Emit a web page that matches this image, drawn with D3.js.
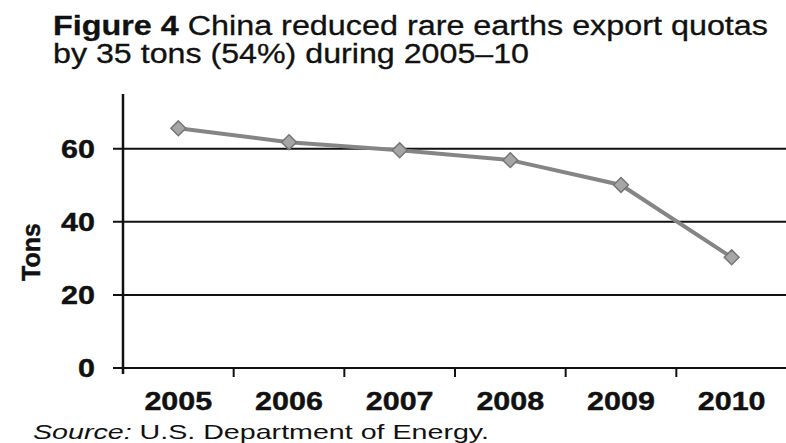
<!DOCTYPE html>
<html>
<head>
<meta charset="utf-8">
<script src="https://cdn.jsdelivr.net/npm/d3@7"></script>
<style>
  html, body { margin: 0; padding: 0; background: #fff; }
  svg { display: block; font-family: "Liberation Sans", Arial, sans-serif; }
</style>
</head>
<body>
<svg id="chart" width="786" height="443"></svg>
<script>
// ---- data ----
const years = ["2005", "2006", "2007", "2008", "2009", "2010"];
const quotas = [65.6, 61.8, 59.6, 56.9, 50.1, 30.3];
const yTicks = [0, 20, 40, 60];
const titleBold = "Figure 4";
const titleRest = " China reduced rare earths export quotas";
const titleLine2 = "by 35 tons (54%) during 2005\u201310";
const yLabel = "Tons";
const sourceItalic = "Source:";
const sourceRest = " U.S. Department of Energy.";

// ---- layout ----
const svg = d3.select("#chart");
const plotL = 123, plotR = 787, plotT = 94, plotB = 368;
const SX = 1.22; // horizontal stretch of the scanned text

const x = d3.scaleBand().domain(years).range([plotL, plotR]).padding(0);
const y = d3.scaleLinear().domain([0, 75]).range([plotB, plotT]);

function stretch(sel, k) {
  sel.each(function () {
    const w = this.getComputedTextLength();
    d3.select(this).attr("textLength", w * k).attr("lengthAdjust", "spacingAndGlyphs");
  });
}

// gridlines
svg.append("g")
  .selectAll("line")
  .data(yTicks)
  .join("line")
  .attr("x1", plotL - 10).attr("x2", 786)
  .attr("y1", d => y(d)).attr("y2", d => y(d))
  .attr("stroke", "#111").attr("stroke-width", 2);

// y axis line
svg.append("line")
  .attr("x1", plotL).attr("x2", plotL)
  .attr("y1", plotT).attr("y2", plotB + 6)
  .attr("stroke", "#111").attr("stroke-width", 2.5);

// y tick labels
const yl = svg.append("g")
  .selectAll("text")
  .data(yTicks)
  .join("text")
  .attr("x", 95).attr("y", d => y(d))
  .attr("dy", "0.36em")
  .attr("text-anchor", "end")
  .attr("font-weight", "bold")
  .attr("font-size", 25)
  .attr("fill", "#111")
  .attr("stroke", "#111").attr("stroke-width", 0.4)
  .text(d => d);
stretch(yl, SX);

// x ticks (band boundaries)
const bounds = years.map(d => x(d)).concat([x(years[years.length - 1]) + x.bandwidth()]);
svg.append("g")
  .selectAll("line")
  .data(bounds.slice(1))
  .join("line")
  .attr("x1", d => d).attr("x2", d => d)
  .attr("y1", plotB).attr("y2", plotB + 9)
  .attr("stroke", "#111").attr("stroke-width", 2);

// x labels
const xl = svg.append("g")
  .selectAll("text")
  .data(years)
  .join("text")
  .attr("x", d => x(d) + x.bandwidth() / 2)
  .attr("y", 410)
  .attr("text-anchor", "middle")
  .attr("font-weight", "bold")
  .attr("font-size", 25)
  .attr("fill", "#111")
  .attr("stroke", "#111").attr("stroke-width", 0.4)
  .text(d => d);
stretch(xl, SX);

// y axis title
const yt = svg.append("text")
  .attr("transform", "translate(40,252) rotate(-90)")
  .attr("text-anchor", "middle")
  .attr("font-weight", "bold")
  .attr("font-size", 25)
  .attr("fill", "#111")
  .attr("stroke", "#111").attr("stroke-width", 0.4)
  .text(yLabel);
stretch(yt, 1.0);

// line
const pts = years.map((d, i) => ({ year: d, v: quotas[i] }));
svg.append("path")
  .datum(pts)
  .attr("fill", "none")
  .attr("stroke", "#858585")
  .attr("stroke-width", 4)
  .attr("d", d3.line().x(d => x(d.year) + x.bandwidth() / 2).y(d => y(d.v)));

// markers
svg.append("g")
  .selectAll("path")
  .data(pts)
  .join("path")
  .attr("transform", d => `translate(${x(d.year) + x.bandwidth() / 2},${y(d.v)})`)
  .attr("d", d3.symbol().type(d3.symbolDiamond2).size(140))
  .attr("fill", "#a6a6a6")
  .attr("stroke", "#767676")
  .attr("stroke-width", 1.5);

// title
const t1 = svg.append("text").attr("x", 53).attr("y", 35).attr("font-size", 27).attr("fill", "#111")
  .attr("stroke", "#111").attr("stroke-width", 0.3);
t1.append("tspan").attr("font-weight", "bold").text(titleBold);
t1.append("tspan").text(titleRest);
t1.attr("textLength", 715).attr("lengthAdjust", "spacingAndGlyphs");
const t2 = svg.append("text").attr("x", 53).attr("y", 63).attr("font-size", 27).attr("fill", "#111")
  .attr("stroke", "#111").attr("stroke-width", 0.3)
  .text(titleLine2);
t2.attr("textLength", 476).attr("lengthAdjust", "spacingAndGlyphs");

// source
const s = svg.append("text").attr("x", 33).attr("y", 439).attr("font-size", 21).attr("fill", "#111");
s.append("tspan").attr("font-style", "italic").text(sourceItalic);
s.append("tspan").text(sourceRest);
s.attr("textLength", 456).attr("lengthAdjust", "spacingAndGlyphs");
</script>
</body>
</html>
